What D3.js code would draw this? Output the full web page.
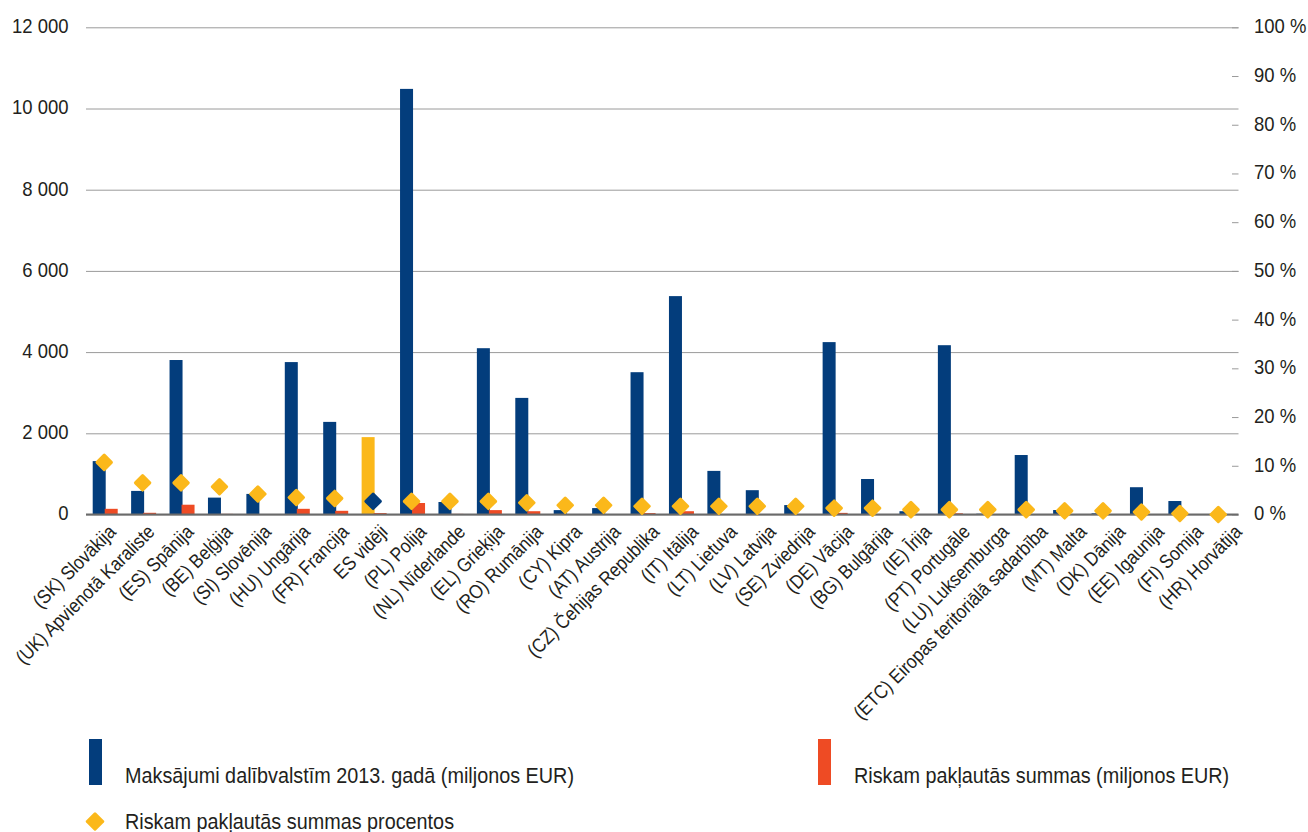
<!DOCTYPE html>
<html lang="lv">
<head>
    <meta charset="UTF-8">
    <title>Maksājumi dalībvalstīm 2013. gadā</title>
    <script src="https://d3js.org/d3.v7.min.js"></script>
    <style>
        body { margin: 0; background: #fff; }
        #chart { display: block; }
        #chart text {
            font-family: "Liberation Sans", Arial, sans-serif;
            fill: #231f20;
        }
    </style>
</head>
<body>
    <svg id="chart" width="1308" height="832"></svg>

    <script>
        const categories = [
            "(SK) Slovākija", "(UK) Apvienotā Karaliste", "(ES) Spānija", "(BE) Beļģija",
            "(SI) Slovēnija", "(HU) Ungārija", "(FR) Francija", "ES vidēji", "(PL) Polija",
            "(NL) Nīderlande", "(EL) Grieķija", "(RO) Rumānija", "(CY) Kipra", "(AT) Austrija",
            "(CZ) Čehijas Republika", "(IT) Itālija", "(LT) Lietuva", "(LV) Latvija",
            "(SE) Zviedrija", "(DE) Vācija", "(BG) Bulgārija", "(IE) Īrija", "(PT) Portugāle",
            "(LU) Luksemburga", "(ETC) Eiropas teritoriālā sadarbība", "(MT) Malta",
            "(DK) Dānija", "(EE) Igaunija", "(FI) Somija", "(HR) Horvātija"
        ];

        // maksājumi 2013. gadā (milj. EUR)
        const payments = [1315, 581, 3805, 416, 507, 3754, 2281, 1906, 10483, 308, 4096, 2872, 108, 158,
            3505, 5379, 1074, 599, 232, 4246, 874, 81, 4170, 20, 1465, 110, 30, 672, 332, 0];

        // riskam pakļautās summas (milj. EUR)
        const atRisk = [140, 42, 241, 15, 10, 140, 91, 35, 283, 15, 108, 81, 10, 10,
            35, 81, 10, 10, 10, 40, 10, 5, 30, 5, 10, 5, 10, 10, 5, 0];

        // riskam pakļautās summas procentos
        const riskPercent = [10.7, 6.5, 6.5, 5.7, 4.2, 3.5, 3.3, 2.7, 2.7, 2.7, 2.7, 2.4, 1.9, 1.9,
            1.7, 1.7, 1.7, 1.7, 1.7, 1.3, 1.3, 1.0, 1.0, 1.0, 1.0, 0.75, 0.75, 0.5, 0.2, 0];

        const leftTicks = [0, 2000, 4000, 6000, 8000, 10000, 12000];
        const rightTicks = [0, 10, 20, 30, 40, 50, 60, 70, 80, 90, 100];

        const legendNames = [
            "Maksājumi dalībvalstīm 2013. gadā (miljonos EUR)",
            "Riskam pakļautās summas (miljonos EUR)",
            "Riskam pakļautās summas procentos"
        ];
        const average = "ES vidēji";

        const blue = "#033d7c", red = "#ee4b24", yellow = "#fbb81a";

        const svg = d3.select("#chart");
        const plotLeft = 86, plotRight = 1238.5, plotTop = 27.3, plotBottom = 514.5;

        // the original uses a condensed face; squeeze Liberation Sans to match
        const squeeze = 0.88;
        function condense(sel) {
            sel.each(function () {
                const w = this.getComputedTextLength();
                d3.select(this).attr("textLength", w * squeeze).attr("lengthAdjust", "spacingAndGlyphs");
            });
        }

        const rows = categories.map((name, i) => ({
            name, pay: payments[i], risk: atRisk[i], pct: riskPercent[i]
        }));

        const x = d3.scaleBand().domain(categories).range([plotLeft, plotRight]);
        const y = d3.scaleLinear().domain([0, 12000]).range([plotBottom, plotTop]);
        const yPct = d3.scaleLinear().domain([0, 100]).range([plotBottom, plotTop]);
        // the slanted labels drift a bit from the bands in the original
        const labelX = d3.scalePoint().domain(categories).range([117, 1243]);
        const center = d => x(d.name) + x.bandwidth() / 2;

        const fmt = d3.formatLocale({ decimal: ",", thousands: "\u00a0", grouping: [3], currency: ["", ""] }).format(",d");

        // left axis + gridlines
        const gLeft = svg.append("g")
            .attr("transform", `translate(${plotLeft},0)`)
            .call(d3.axisLeft(y).tickValues(leftTicks).tickFormat(fmt)
                .tickSize(-(plotRight - plotLeft)).tickPadding(17.5));
        gLeft.select(".domain").remove();
        gLeft.selectAll("line").attr("stroke", "#9a9a9a").attr("stroke-width", 1);
        gLeft.selectAll("text").attr("font-size", 21).attr("dy", "0.26em").call(condense);

        // right axis (percent)
        const gRight = svg.append("g")
            .attr("transform", `translate(${plotRight},0)`)
            .call(d3.axisRight(yPct).tickValues(rightTicks).tickFormat(d => d + "\u00a0%")
                .tickSize(-6.5).tickPadding(15.5));
        gRight.select(".domain").remove();
        gRight.selectAll("line").attr("stroke", "#9a9a9a");
        gRight.selectAll("text").attr("font-size", 21).attr("dy", "0.26em").call(condense);

        // payments
        svg.selectAll("rect.pay")
            .data(rows)
            .enter().append("rect")
            .attr("class", "pay")
            .attr("x", d => center(d) - 12.5)
            .attr("y", d => y(d.pay))
            .attr("width", 13)
            .attr("height", d => y(0) - y(d.pay))
            .attr("fill", d => d.name === average ? yellow : blue);

        // amounts at risk
        svg.selectAll("rect.risk")
            .data(rows)
            .enter().append("rect")
            .attr("class", "risk")
            .attr("x", d => center(d) - 0.5)
            .attr("y", d => y(d.risk))
            .attr("width", 13)
            .attr("height", d => y(0) - y(d.risk))
            .attr("fill", red);

        // baseline
        svg.append("line")
            .attr("x1", plotLeft).attr("x2", plotRight)
            .attr("y1", y(0)).attr("y2", y(0))
            .attr("stroke", "#6a6a6a").attr("stroke-width", 2);

        // percent markers
        svg.selectAll("rect.pct")
            .data(rows)
            .enter().append("rect")
            .attr("class", "pct")
            .attr("x", -6.6).attr("y", -6.6)
            .attr("width", 13.2).attr("height", 13.2)
            .attr("rx", 1.5)
            .attr("transform", d => `translate(${center(d) - 1},${yPct(d.pct)}) rotate(45)`)
            .attr("fill", d => d.name === average ? blue : yellow);

        // category labels
        svg.selectAll("text.cat")
            .data(rows)
            .enter().append("text")
            .attr("class", "cat")
            .attr("transform", d => `translate(${labelX(d.name)},533) rotate(-45)`)
            .attr("text-anchor", "end")
            .attr("font-size", 19.5)
            .text(d => d.name)
            .call(condense);

        // legend
        const legend = svg.append("g");
        const legendItems = [
            { name: legendNames[0], color: blue, x: 89, y: 783, type: "bar" },
            { name: legendNames[1], color: red, x: 818, y: 783, type: "bar" },
            { name: legendNames[2], color: yellow, x: 89, y: 829, type: "diamond" }
        ];
        legendItems.forEach(item => {
            if (item.type === "bar") {
                legend.append("rect")
                    .attr("x", item.x).attr("y", item.y - 44)
                    .attr("width", 13).attr("height", 46)
                    .attr("fill", item.color);
            } else {
                legend.append("rect")
                    .attr("x", -7).attr("y", -7).attr("width", 14).attr("height", 14).attr("rx", 1.5)
                    .attr("transform", `translate(${item.x + 6},${item.y - 7.5}) rotate(45)`)
                    .attr("fill", item.color);
            }
            legend.append("text")
                .attr("x", item.x + 36)
                .attr("y", item.y)
                .attr("font-size", 22.5)
                .text(item.name)
                .call(condense);
        });
    </script>
</body>
</html>
